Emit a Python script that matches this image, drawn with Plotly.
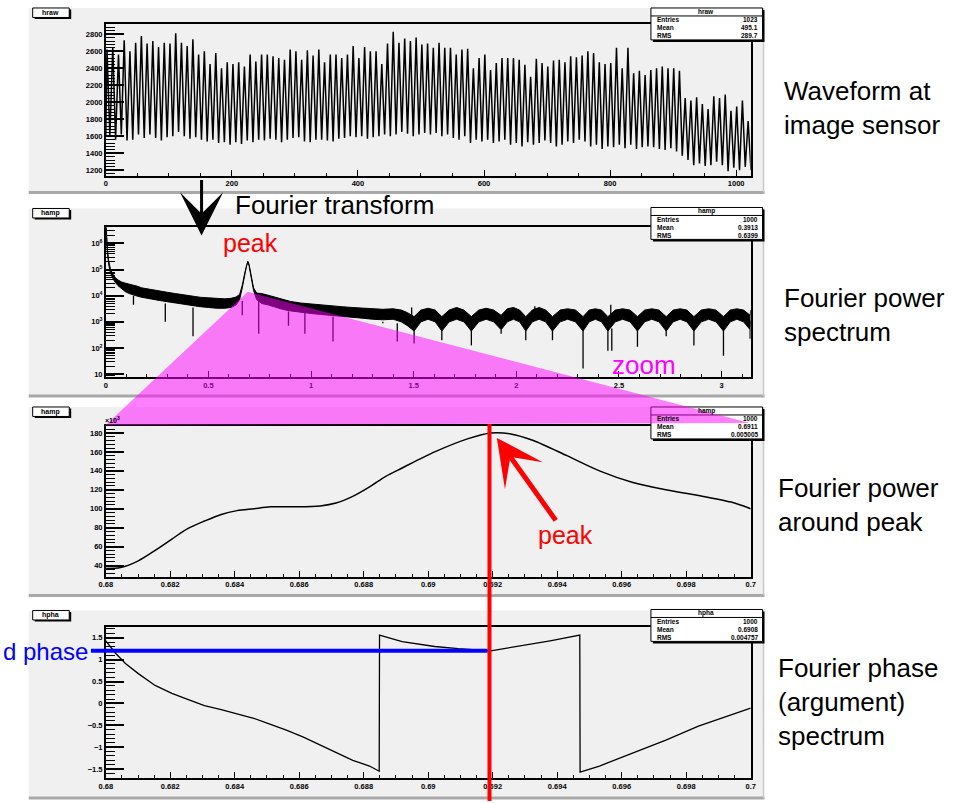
import math
import plotly.graph_objects as go

W, H = 970, 803

# ---------------- data ----------------
# Panel 1 (hraw): waveform at image sensor, one max / min per oscillation cycle
raw_cycle = 9.08   # samples per oscillation cycle
raw_peaks = [
    2620, 2650, 2560, 2730, 2600, 2700, 2780, 2690, 2720, 2650, 2700,
    2690, 2810, 2700, 2660, 2740, 2560, 2600, 2450, 2580, 2400, 2470,
    2450, 2470, 2420, 2560, 2480, 2560, 2560, 2540, 2520, 2500, 2620,
    2600, 2500, 2610, 2550, 2620, 2470, 2560, 2560, 2520, 2560, 2660,
    2520, 2650, 2600, 2600, 2450, 2690, 2830, 2700, 2750, 2720, 2760,
    2680, 2690, 2640, 2700, 2640, 2640, 2560, 2620, 2630, 2400, 2520,
    2560, 2380, 2460, 2520, 2520, 2520, 2500, 2440, 2300, 2510, 2460,
    2420, 2490, 2500, 2470, 2540, 2530, 2550, 2600, 2580, 2470, 2450,
    2460, 2640, 2400, 2640, 2340, 2370, 2320, 2380, 2400, 2420, 2400,
    2400, 2370, 2050, 2020, 2060, 1980, 1920, 2070, 2050, 2090, 1900, 1950, 2020, 1780]
raw_troughs = [
    1600, 1560, 1620, 1550, 1560, 1620, 1580, 1620, 1580, 1550, 1590,
    1600, 1650, 1600, 1570, 1590, 1560, 1540, 1560, 1520, 1530, 1500,
    1530, 1510, 1550, 1530, 1560, 1550, 1570, 1560, 1530, 1560, 1580,
    1590, 1540, 1530, 1560, 1560, 1550, 1540, 1570, 1580, 1600, 1590,
    1600, 1570, 1590, 1600, 1620, 1600, 1620, 1650, 1630, 1600, 1620,
    1640, 1620, 1640, 1600, 1620, 1580, 1560, 1600, 1520, 1560, 1540,
    1560, 1520, 1540, 1560, 1500, 1520, 1480, 1530, 1500, 1520, 1550,
    1520, 1480, 1500, 1540, 1520, 1560, 1540, 1480, 1500, 1450, 1480,
    1470, 1500, 1460, 1500, 1450, 1470, 1480, 1470, 1450, 1440, 1460,
    1420, 1370, 1320, 1260, 1280, 1250, 1260, 1300, 1260, 1190, 1230, 1200, 1240, 1200]

# Panel 2 (hamp): Fourier power spectrum, log10 of upper / lower edge of noise band
spec_x = [0.000, 0.004, 0.008, 0.014, 0.022, 0.032, 0.045, 0.060, 0.078, 0.096,
          0.115, 0.135, 0.155, 0.175, 0.200, 0.230, 0.260, 0.300, 0.340, 0.380,
          0.420, 0.460, 0.500, 0.540, 0.580, 0.610, 0.635, 0.652, 0.665, 0.678,
          0.686, 0.692, 0.698, 0.706, 0.720, 0.735, 0.760, 0.790, 0.820, 0.860,
          0.900, 0.950, 1.000, 1.050, 1.100, 1.150, 1.200, 1.250, 1.300, 1.350,
          1.400, 1.440, 1.470, 1.502, 1.535, 1.570, 1.605, 1.637, 1.673, 1.709,
          1.745, 1.781, 1.817, 1.853, 1.890, 1.926, 1.956, 1.986, 2.016, 2.046,
          2.078, 2.111, 2.143, 2.176, 2.213, 2.250, 2.288, 2.325, 2.355, 2.385,
          2.415, 2.446, 2.482, 2.518, 2.554, 2.590, 2.625, 2.660, 2.695, 2.730,
          2.764, 2.798, 2.831, 2.865, 2.901, 2.937, 2.973, 3.009, 3.042, 3.074,
          3.107, 3.139, 3.1416]
spec_hi = [6.90, 6.30, 5.80, 5.35, 5.05, 4.85, 4.70, 4.60, 4.52, 4.48,
           4.45, 4.40, 4.36, 4.30, 4.26, 4.22, 4.18, 4.13, 4.08, 4.03,
           3.98, 3.94, 3.92, 3.90, 3.88, 3.90, 3.95, 4.05, 4.40, 4.90,
           5.20, 5.32, 5.20, 4.85, 4.30, 4.10, 4.08, 4.02, 3.95, 3.85,
           3.78, 3.72, 3.68, 3.65, 3.62, 3.58, 3.55, 3.52, 3.50, 3.48,
           3.50, 3.45, 3.35, 3.20, 3.45, 3.52, 3.45, 3.20, 3.45, 3.55,
           3.45, 3.20, 3.45, 3.52, 3.45, 3.25, 3.50, 3.55, 3.45, 3.20,
           3.45, 3.55, 3.45, 3.20, 3.45, 3.50, 3.45, 3.20, 3.45, 3.50,
           3.45, 3.20, 3.45, 3.50, 3.45, 3.20, 3.45, 3.50, 3.45, 3.20,
           3.45, 3.50, 3.45, 3.20, 3.45, 3.50, 3.45, 3.20, 3.45, 3.50,
           3.45, 3.25, 3.45]
spec_lo = [6.80, 6.15, 5.65, 5.20, 4.90, 4.70, 4.52, 4.38, 4.25, 4.15,
           4.08, 4.02, 3.98, 3.94, 3.90, 3.86, 3.82, 3.77, 3.72, 3.67,
           3.62, 3.58, 3.55, 3.52, 3.52, 3.55, 3.65, 3.85, 4.30, 4.85,
           5.15, 5.28, 5.15, 4.80, 4.20, 3.85, 3.70, 3.65, 3.58, 3.48,
           3.42, 3.36, 3.32, 3.28, 3.25, 3.22, 3.18, 3.14, 3.10, 3.08,
           3.10, 3.00, 2.85, 2.65, 3.00, 3.10, 3.00, 2.65, 3.00, 3.10,
           3.00, 2.65, 3.00, 3.10, 3.00, 2.70, 3.00, 3.10, 3.00, 2.65,
           3.00, 3.10, 3.00, 2.65, 3.00, 3.10, 3.00, 2.65, 3.00, 3.10,
           3.00, 2.65, 3.00, 3.10, 3.00, 2.65, 3.00, 3.10, 3.00, 2.65,
           3.00, 3.10, 3.00, 2.65, 3.00, 3.10, 3.00, 2.65, 3.00, 3.10,
           3.00, 2.70, 3.05]
# narrow spikes in the spectrum (log10 top, log10 bottom)
spike_x = [0.135, 0.290, 0.425, 0.665, 0.745, 0.890, 0.970, 1.107, 1.350, 1.420,
           1.502, 1.637, 1.781, 1.926, 2.046, 2.176, 2.325, 2.446, 2.465, 2.590,
           2.730, 2.865, 3.009, 3.139, 2.090, 2.460, 1.490]
spike_hi = [4.00, 3.70, 3.55, 3.80, 3.80, 3.40, 3.35, 3.20, 3.00, 2.95,
            2.70, 2.70, 2.70, 2.70, 2.70, 2.70, 2.70, 2.70, 2.75, 2.70,
            2.70, 2.70, 2.70, 2.70, 3.60, 3.65, 3.55]
spike_lo = [3.65, 3.00, 2.45, 3.25, 2.55, 2.85, 2.55, 2.25, 2.95, 2.25,
            2.17, 2.30, 2.10, 2.55, 2.30, 2.30, 1.22, 1.90, 1.90, 2.05,
            2.45, 2.10, 1.70, 2.35, 3.10, 3.10, 3.10]

# Panel 3 (hamp zoom): power around the peak, in units of 10^3
zoom_x = [0.68000, 0.68046, 0.68101, 0.68153, 0.68205, 0.68254, 0.68306, 0.68358,
          0.68407, 0.68459, 0.68511, 0.68591, 0.68665, 0.68714, 0.68766, 0.68818,
          0.68867, 0.68919, 0.69020, 0.69124, 0.69194, 0.69256, 0.69326, 0.69430,
          0.69531, 0.69632, 0.69737, 0.69838, 0.69939, 0.70000]
zoom_amp = [37, 38, 45, 56, 68, 79, 87, 94, 98, 100, 102, 102, 103, 106, 113,
            123, 134, 143, 160, 174, 180, 179, 172, 156, 140, 128, 120, 114, 107, 100]

# Panel 4 (hpha): Fourier phase
phase_x = [0.68000, 0.68031, 0.68061, 0.68101, 0.68153, 0.68205, 0.68254, 0.68306,
           0.68358, 0.68407, 0.68459, 0.68511, 0.68560, 0.68613, 0.68665, 0.68714,
           0.68766, 0.68818, 0.68848, 0.68849, 0.68919, 0.69020, 0.69093, 0.69194,
           0.69277, 0.69378, 0.69470, 0.69471, 0.69531, 0.69632, 0.69737, 0.69838,
           0.69939, 0.70000]
phase_val = [1.43, 1.14, 0.91, 0.68, 0.41, 0.23, 0.09, -0.05, -0.14, -0.23, -0.34,
             -0.48, -0.61, -0.77, -0.95, -1.11, -1.30, -1.43, -1.55, 1.56, 1.41,
             1.30, 1.25, 1.20, 1.30, 1.43, 1.56, -1.57, -1.43, -1.14, -0.84, -0.52,
             -0.27, -0.11]

peak_freq = 0.6919
peak_phase = 1.20
peak_base_log = 4.15

panel_names = ["hraw", "hamp", "hamp", "hpha"]
stat_labels = ["Entries", "Mean", "RMS"]
stat_values = [["1023", "495.1", "289.7"],
               ["1000", "0.3913", "0.6399"],
               ["1000", "0.6911", "0.005005"],
               ["1000", "0.6908", "0.004757"]]

# ---------------- layout geometry (pixels) ----------------
FX0, FX1 = 100, 753
FRAMES = [(24, 176), (228, 378), (427, 578), (629, 780)]
PANELS = [(8, 193), (209, 397), (408, 597), (612, 800)]
STAT_TOPS = [8, 208, 408, 611]
X_RANGES = [[0, 1023], [0, math.pi], [0.68, 0.70], [0.68, 0.70]]
Y_RANGES = [[1138, 2921], [0.89, 6.61], [28.4, 187.4], [-1.705, 1.735]]

def fx(px):
    return px / W

def fy(py):
    return 1 - py / H

def data_px_x(x, i):
    r = X_RANGES[i]
    return FX0 + (x - r[0]) / (r[1] - r[0]) * (FX1 - FX0)

def data_px_y(y, i):
    r = Y_RANGES[i]
    top, bot = FRAMES[i]
    return bot - (y - r[0]) / (r[1] - r[0]) * (bot - top)

FONT = "Liberation Sans, Arial, sans-serif"

fig = go.Figure()

# panel 1 waveform (zigzag through per-cycle extremes)
wx, wy = [], []
for k, (pk, tr) in enumerate(zip(raw_peaks, raw_troughs)):
    wx += [k * raw_cycle + 2.0, k * raw_cycle + 6.5]
    wy += [pk, tr]
fig.add_trace(go.Scatter(x=[0] + wx, y=[1600] + wy, mode="lines",
                         line=dict(color="black", width=1.5),
                         xaxis="x", yaxis="y", hoverinfo="skip"))

# panel 2 spectrum band
fig.add_trace(go.Scatter(x=spec_x, y=[10 ** v for v in spec_hi], mode="lines",
                         line=dict(color="black", width=1),
                         xaxis="x2", yaxis="y2", hoverinfo="skip"))
fig.add_trace(go.Scatter(x=spec_x, y=[10 ** v for v in spec_lo], mode="lines",
                         line=dict(color="black", width=1), fill="tonexty",
                         fillcolor="black", xaxis="x2", yaxis="y2", hoverinfo="skip"))
sx, sy = [], []
for x, a, b in zip(spike_x, spike_hi, spike_lo):
    sx += [x, x, None]
    sy += [10 ** a, 10 ** b, None]
fig.add_trace(go.Scatter(x=sx, y=sy, mode="lines", line=dict(color="black", width=1.3),
                         xaxis="x2", yaxis="y2", hoverinfo="skip"))

# panel 3 zoom
fig.add_trace(go.Scatter(x=zoom_x, y=zoom_amp, mode="lines",
                         line=dict(color="black", width=1.5, shape="spline", smoothing=0.8),
                         xaxis="x3", yaxis="y3", hoverinfo="skip"))
# panel 4 phase
fig.add_trace(go.Scatter(x=phase_x, y=phase_val, mode="lines",
                         line=dict(color="black", width=1.3),
                         xaxis="x4", yaxis="y4", hoverinfo="skip"))

tickfont = dict(family=FONT, size=7.5, color="black", weight="bold")

def xax(i, dtick, minor):
    return dict(domain=[fx(FX0), fx(FX1)], anchor="y" if i == 0 else "y%d" % (i + 1),
                range=X_RANGES[i], showline=True, linecolor="black", linewidth=1.5,
                mirror=True, showgrid=False, zeroline=False, ticks="inside", ticklen=6,
                tickwidth=1.2, tickcolor="black", dtick=dtick, tick0=X_RANGES[i][0] if i >= 2 else 0,
                tickfont=tickfont,
                minor=dict(ticks="inside", ticklen=3, dtick=minor, tickcolor="black",
                           tickwidth=1, showgrid=False))

def yax(i, **kw):
    top, bot = FRAMES[i]
    d = dict(domain=[fy(bot), fy(top)], anchor="x" if i == 0 else "x%d" % (i + 1),
             range=Y_RANGES[i], showline=True, linecolor="black", linewidth=1.5,
             mirror=True, showgrid=False, zeroline=False, ticks="inside", ticklen=18,
             tickwidth=1.5, tickcolor="black", tickfont=tickfont)
    d.update(kw)
    return d

log_minor = [m * 10 ** n for n in range(0, 7) for m in range(2, 10)]

layout = dict(
    width=W, height=H, margin=dict(l=0, r=0, t=0, b=0),
    paper_bgcolor="white", plot_bgcolor="#f0f0f0", showlegend=False,
    xaxis=xax(0, 200, 50),
    yaxis=yax(0, dtick=200, tick0=0,
              minor=dict(ticks="inside", ticklen=9, dtick=40, tickcolor="black",
                         tickwidth=1, showgrid=False)),
    xaxis2=xax(1, 0.5, 0.1),
    yaxis2=yax(1, type="log", tickmode="array",
               tickvals=[10, 100, 1e3, 1e4, 1e5, 1e6],
               ticktext=["10", "10<sup>2</sup>", "10<sup>3</sup>", "10<sup>4</sup>",
                         "10<sup>5</sup>", "10<sup>6</sup>"],
               minor=dict(ticks="inside", ticklen=9, tickmode="array", tickvals=log_minor,
                          tickcolor="black", tickwidth=0.7, showgrid=False)),
    xaxis3=xax(2, 0.002, 0.0005),
    yaxis3=yax(2, dtick=20, tick0=0,
               minor=dict(ticks="inside", ticklen=9, dtick=4, tickcolor="black",
                          tickwidth=1, showgrid=False)),
    xaxis4=xax(3, 0.002, 0.0005),
    yaxis4=yax(3, dtick=0.5, tick0=0,
               minor=dict(ticks="inside", ticklen=9, dtick=0.1, tickcolor="black",
                          tickwidth=1, showgrid=False)),
)
fig.update_layout(**layout)

shapes = []
annotations = []

def prect(x0, y0, x1, y1, **kw):
    d = dict(type="rect", xref="paper", yref="paper", x0=fx(x0), x1=fx(x1),
             y0=fy(y1), y1=fy(y0))
    d.update(kw)
    return d

# panel backgrounds
for (t, b) in PANELS:
    shapes.append(prect(22, t, 766, b, fillcolor="#f0f0f0", line=dict(width=0), layer="below"))
    shapes.append(dict(type="line", xref="paper", yref="paper", x0=fx(22), x1=fx(767),
                       y0=fy(b), y1=fy(b), line=dict(color="#a8a8a8", width=3), layer="below"))
    shapes.append(dict(type="line", xref="paper", yref="paper", x0=fx(766), x1=fx(766),
                       y0=fy(t), y1=fy(b), line=dict(color="#c8c8c8", width=1.5), layer="below"))

# name boxes and stats boxes
for i, (t, b) in enumerate(PANELS):
    nt = t
    shapes.append(prect(28, nt + 1.5, 65, nt + 11, fillcolor="black", line=dict(width=0)))
    shapes.append(prect(26, nt, 63, nt + 9.5, fillcolor="white", line=dict(color="black", width=1)))
    annotations.append(dict(text=panel_names[i], xref="paper", yref="paper", x=fx(44.5),
                            y=fy(nt + 4.8), showarrow=False, xanchor="center", yanchor="middle",
                            font=dict(family=FONT, size=7, color="black", weight="bold")))
    st = STAT_TOPS[i]
    shapes.append(prect(654, st + 2, 767, st + 34, fillcolor="black", line=dict(width=0)))
    shapes.append(prect(652, st, 765, st + 32, fillcolor="white", line=dict(color="black", width=1)))
    shapes.append(dict(type="line", xref="paper", yref="paper", x0=fx(652), x1=fx(765),
                       y0=fy(st + 8), y1=fy(st + 8), line=dict(color="black", width=1)))
    annotations.append(dict(text=panel_names[i], xref="paper", yref="paper", x=fx(708),
                            y=fy(st + 4), showarrow=False, xanchor="center", yanchor="middle",
                            font=dict(family=FONT, size=6.5, color="black", weight="bold")))
    for r, (lab, val) in enumerate(zip(stat_labels, stat_values[i])):
        yy = fy(st + 12 + r * 8)
        annotations.append(dict(text=lab, xref="paper", yref="paper", x=fx(656), y=yy,
                                showarrow=False, xanchor="left", yanchor="middle",
                                font=dict(family=FONT, size=6.5, color="black", weight="bold")))
        annotations.append(dict(text=val, xref="paper", yref="paper", x=fx(762), y=yy,
                                showarrow=False, xanchor="right", yanchor="middle",
                                font=dict(family=FONT, size=6.5, color="black", weight="bold")))

# x10^3 label on panel 3
annotations.append(dict(text="×10<sup>3</sup>", xref="paper", yref="paper", x=fx(97), y=fy(421),
                        showarrow=False, xanchor="left", yanchor="middle",
                        font=dict(family=FONT, size=7, color="black", weight="bold")))

# magenta zoom triangle
apx = data_px_x(peak_freq, 1)
apy = data_px_y(peak_base_log, 1)
top3 = FRAMES[2][0] - 1
path = "M %f,%f L %f,%f L %f,%f Z" % (fx(apx), fy(apy), fx(FX0), fy(top3), fx(FX1 - 1), fy(top3 - 2))
shapes.append(dict(type="path", xref="paper", yref="paper", path=path,
                   fillcolor="rgba(255,0,255,0.5)", line=dict(width=0), layer="above"))

# red vertical line at peak frequency, blue line at measured phase
rx = data_px_x(peak_freq, 2)
shapes.append(dict(type="line", xref="paper", yref="paper", x0=fx(rx), x1=fx(rx),
                   y0=fy(top3 - 1), y1=0, line=dict(color="#ff0000", width=4)))
by = data_px_y(peak_phase, 3)
shapes.append(dict(type="line", xref="paper", yref="paper", x0=fx(85), x1=fx(rx - 2),
                   y0=fy(by), y1=fy(by), line=dict(color="#0000ff", width=4)))

# texts
big = lambda c, s=26: dict(family=FONT, size=s, color=c)
for txt, x, y in [("Waveform at<br>image sensor", 785, 108.5),
                  ("Fourier power<br>spectrum", 785, 316),
                  ("Fourier power<br>around peak", 779, 506),
                  ("Fourier phase<br>(argument)<br>spectrum", 779, 704)]:
    annotations.append(dict(text=txt, xref="paper", yref="paper", x=fx(x), y=fy(y),
                            showarrow=False, xanchor="left", yanchor="middle", align="left",
                            font=big("black")))
annotations.append(dict(text="Fourier transform", xref="paper", yref="paper", x=fx(229), y=fy(206),
                        showarrow=False, xanchor="left", yanchor="middle", font=big("black")))
annotations.append(dict(text="peak", xref="paper", yref="paper", x=fx(247), y=fy(244),
                        showarrow=False, xanchor="center", yanchor="middle", font=big("#ff0000", 25)))
annotations.append(dict(text="zoom", xref="paper", yref="paper", x=fx(645), y=fy(366),
                        showarrow=False, xanchor="center", yanchor="middle", font=big("#ff00ff")))
annotations.append(dict(text="peak", xref="paper", yref="paper", x=fx(566), y=fy(536),
                        showarrow=False, xanchor="center", yanchor="middle", font=big("#ff0000", 25)))
annotations.append(dict(text="d phase", xref="paper", yref="paper", x=fx(84), y=fy(653),
                        showarrow=False, xanchor="right", yanchor="middle", font=big("#0000ff", 24)))

# arrows
annotations.append(dict(text="", xref="paper", yref="paper", x=fx(197), y=fy(236),
                        ax=0, ay=-57, showarrow=True, arrowhead=3, arrowsize=2.4,
                        arrowwidth=3, arrowcolor="black", standoff=0))
annotations.append(dict(text="", xref="paper", yref="paper", x=fx(496), y=fy(439),
                        ax=60, ay=84, showarrow=True, arrowhead=3, arrowsize=1.55,
                        arrowwidth=5, arrowcolor="#ff0000", standoff=0))

fig.update_layout(shapes=shapes, annotations=annotations)
fig.write_html("out.html", config={"displayModeBar": False},
               post_script="document.body.style.margin='0px';")
